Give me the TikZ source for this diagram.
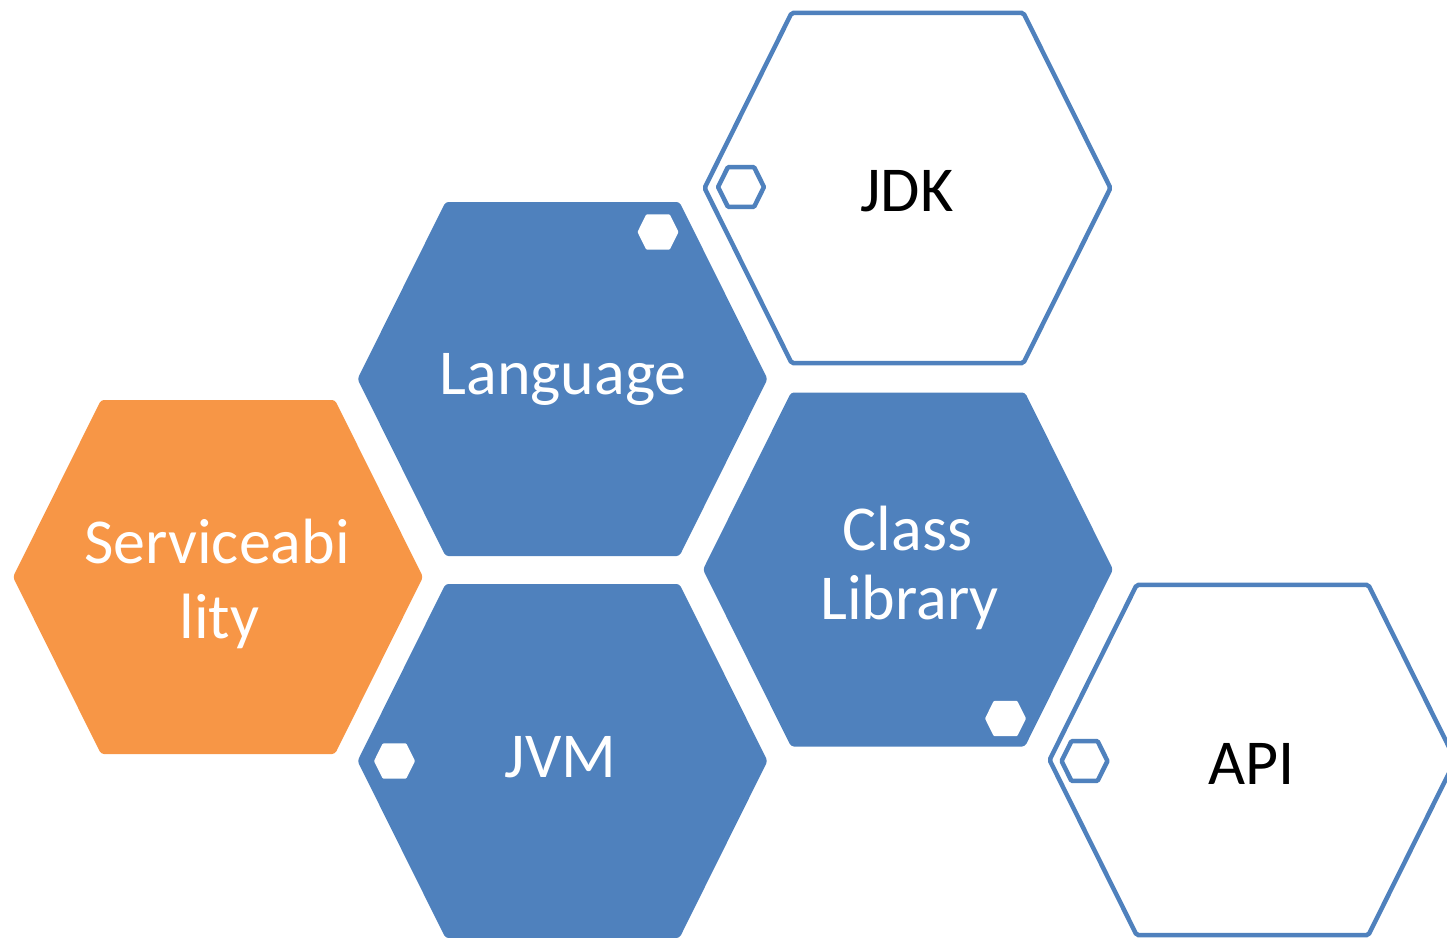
\documentclass[tikz,border=0pt]{standalone}
\usepackage{fontspec}
\setmainfont{Carlito}
\definecolor{hexblue}{HTML}{4F81BD}
\definecolor{hexorange}{HTML}{F79646}
\newcommand{\hexshape}[4]{%
  \begin{scope}[shift={(#2,#3)}]
    \path[#1] (-205*#4,0) -- (-117*#4,-177*#4) -- (117*#4,-177*#4) -- (205*#4,0)
      -- (117*#4,177*#4) -- (-117*#4,177*#4) -- cycle;
  \end{scope}}
\tikzset{
  bluehex/.style={fill=hexblue, rounded corners=3pt},
  orangehex/.style={fill=hexorange, rounded corners=3pt},
  outlinehex/.style={draw=hexblue, line width=4.5pt, fill=white, rounded corners=2pt, line join=miter},
  dothex/.style={fill=white, rounded corners=1pt},
  ringhex/.style={draw=hexblue, line width=4.5pt, rounded corners=1pt},
  lbl/.style={font=\fontsize{64}{72}\selectfont, anchor=base, inner sep=0pt},
  lblw/.style={lbl, text=white},
  lblk/.style={lbl, text=black}
}
\begin{document}
\begin{tikzpicture}[x=1pt,y=-1pt]
\useasboundingbox (0,0) rectangle (1447,937);
\clip (0,0) rectangle (1447,937);
% filled hexagons
\hexshape{bluehex}{562.5}{379}{1}
\hexshape{orangehex}{218}{577}{1}
\hexshape{bluehex}{562.5}{761}{1}
\hexshape{bluehex}{908}{569.5}{1}
% outlined hexagons
\hexshape{outlinehex}{907.5}{188}{0.99}
\hexshape{outlinehex}{1252.5}{760}{0.99}
% small decorations
\hexshape{dothex}{658}{232}{0.1}
\hexshape{dothex}{1005.5}{718.5}{0.1}
\hexshape{dothex}{394.5}{761}{0.1}
\hexshape{ringhex}{741}{187}{0.112}
\hexshape{ringhex}{1084.5}{761}{0.112}
% labels
\node[lblw] (lang) at (563,394) {Language};
\node[lblw] (serv1) at (217,563) {Serviceabi};
\node[lblw] (serv2) at (219.5,638) {lity};
\node[lblw] (class1) at (907.5,550) {Class};
\node[lblw] (class2) at (909.5,619) {Library};
\node[lblw] (jvm) at (560.5,777) {JVM};
\node[lblk] (jdk) at (907,211) {JDK};
\node[lblk] (api) at (1251.5,784) {API};
\end{tikzpicture}
\end{document}
